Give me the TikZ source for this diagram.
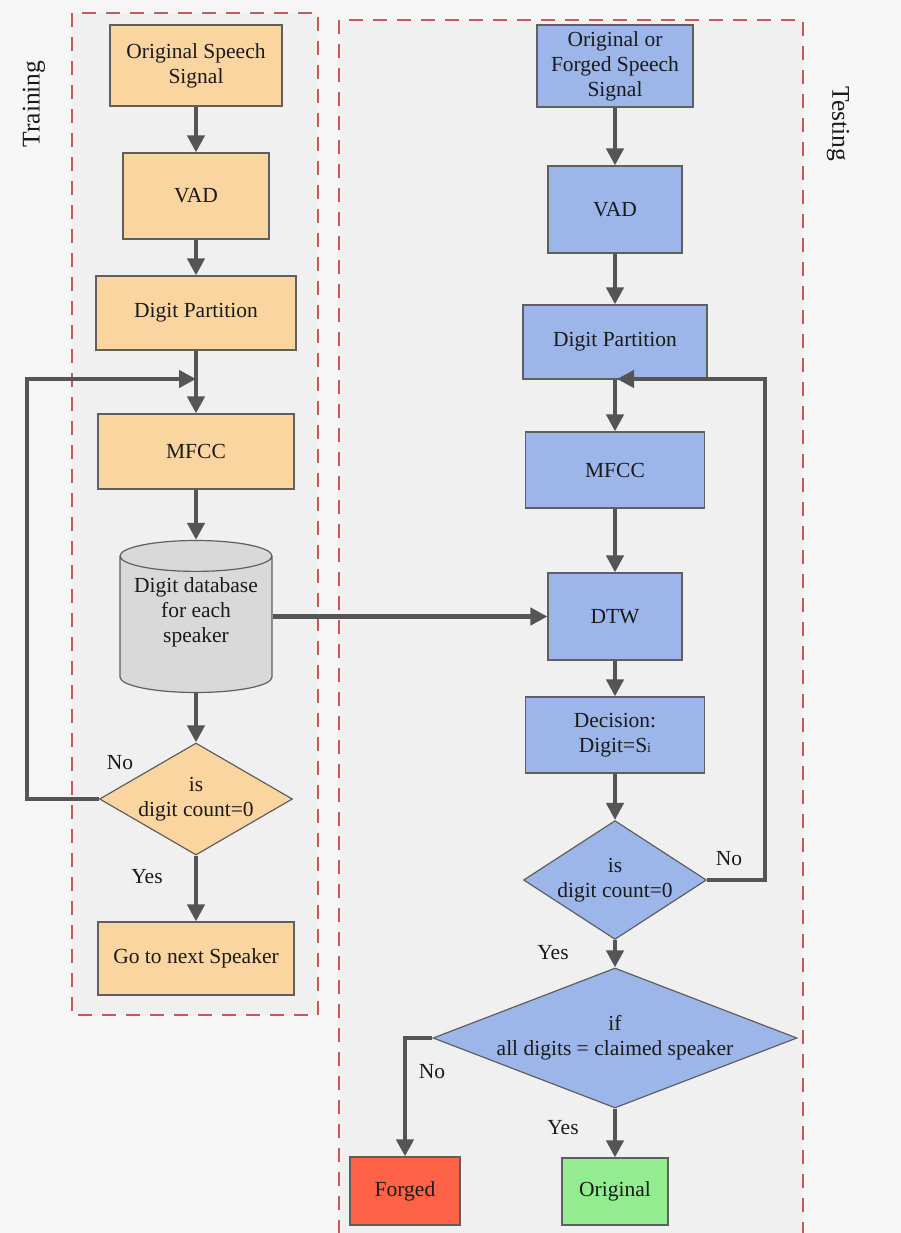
\documentclass[tikz,border=0pt]{standalone}
\usepackage{fontspec}
\setmainfont{Liberation Serif}
\usetikzlibrary{shapes.geometric,arrows.meta}
\definecolor{bg}{HTML}{F6F6F6}
\definecolor{panel}{HTML}{F0F0F0}
\definecolor{orangef}{HTML}{FAD5A0}
\definecolor{bluef}{HTML}{9DB6EA}
\definecolor{redf}{HTML}{FF6347}
\definecolor{greenf}{HTML}{93EC8F}
\definecolor{greyf}{HTML}{D9D9D9}
\definecolor{arrowc}{HTML}{555555}
\definecolor{edgec}{HTML}{5F5F5F}
\definecolor{dashc}{HTML}{C9585A}
\definecolor{txt}{HTML}{1A1A1A}
\tikzset{
  box/.style={draw=edgec, line width=1.2pt, align=center, inner sep=0pt, text=txt},
  obox/.style={box, fill=orangef},
  bbox/.style={box, fill=bluef},
  sz/.style 2 args={minimum width=#1, minimum height=#2},
  dia/.style={diamond, draw=edgec, line width=1.2pt, align=center, inner sep=0pt, text=txt},
  arr/.style={draw=arrowc, line width=4.5pt, -{Triangle[length=17pt,width=17pt]}},
  panelbox/.style={draw=dashc, line width=2.2pt, dash pattern=on 14pt off 10pt, fill=panel},
  lbl/.style={text=txt, inner sep=0pt}
}
\begin{document}
\begin{tikzpicture}[x=1pt,y=-1pt,font=\fontsize{21.5}{25}\selectfont]
\useasboundingbox (0,0) rectangle (901,1233);
\fill[bg] (0,0) rectangle (901,1233);
\clip (0,0) rectangle (901,1233);
% panels
\draw[panelbox] (72,13) rectangle (318,1015);
\draw[panelbox] (339,20) rectangle (803,1260);
% side labels
\node[lbl, rotate=90, font=\fontsize{25.5}{28}\selectfont] (trainlbl) at (34,104) {Training};
\node[lbl, rotate=-90, font=\fontsize{25.5}{28}\selectfont] (testlbl) at (838,124) {Testing};
% training column
\node[obox, sz={172pt}{81pt}] (o1) at (196,65.5) {Original Speech\\Signal};
\node[obox, sz={146pt}{86pt}] (v1) at (196,196) {VAD};
\node[obox, sz={200pt}{74pt}] (p1) at (196,313) {Digit Partition};
\node[obox, sz={196pt}{75pt}] (m1) at (196,451.5) {MFCC};
\node[cylinder, shape border rotate=90, aspect=0.25, draw=edgec, line width=1.2pt, fill=greyf,
      minimum width=152pt, minimum height=152pt, align=center, inner sep=0pt, text=txt,
      anchor=shape center] (db) at (196,616.5) {Digit database\\for each\\speaker\\[4pt]};
\node[dia, minimum width=193pt, minimum height=112pt, fill=orangef, aspect=1.72] (d1) at (196,799) {is\\digit count=0};
\node[obox, sz={196pt}{73pt}] (g1) at (196,958.5) {Go to next Speaker};
% testing column
\node[bbox, sz={156pt}{82pt}] (o2) at (615,66) {Original or\\Forged Speech\\Signal};
\node[bbox, sz={134pt}{87pt}] (v2) at (615,209.5) {VAD};
\node[bbox, sz={184pt}{74pt}] (p2) at (615,342) {Digit Partition};
\node[bbox, sz={179pt}{76pt}] (m2) at (615,470) {MFCC};
\node[bbox, sz={134pt}{87pt}] (dtw) at (615,616.5) {DTW};
\node[bbox, sz={179pt}{76pt}] (dec) at (615,735) {Decision:\\Digit=S{\fontsize{14}{14}\selectfont i}};
\node[dia, minimum width=176pt, minimum height=114pt, fill=bluef, aspect=1.54] (d2) at (615,880) {is\\digit count=0};
\node[dia, minimum width=364pt, minimum height=140pt, fill=bluef, aspect=2.6] (d3) at (615,1038) {if\\all digits = claimed speaker};
\node[box, fill=redf, sz={110pt}{68pt}] (fg) at (405,1191) {Forged};
\node[box, fill=greenf, sz={106pt}{67pt}] (og) at (615,1191.5) {Original};
% labels
\node[lbl] (no1) at (120,763) {No};
\node[lbl] (yes1) at (147,877) {Yes};
\node[lbl] (no2) at (729,859) {No};
\node[lbl] (yes2) at (553,953) {Yes};
\node[lbl] (no3) at (432,1072) {No};
\node[lbl] (yes3) at (563,1128) {Yes};
% junction coordinates
\coordinate (jl) at (196,379);
\coordinate (lc) at (27,379);
\coordinate (jr) at (617,379);
\coordinate (rc) at (765,379);
% training arrows
\draw[arr] (o1) -- (v1);
\draw[arr] (v1) -- (p1);
\draw[arr] (p1) -- (m1);
\draw[arr] (m1) -- (db.north);
\draw[arr] (db.south) -- (d1);
\draw[arr] (d1) -- (g1);
\draw[arr] (d1.west) -| (lc) -- (jl);
\draw[arr] (db.east |- dtw.west) -- (dtw.west);
% testing arrows
\draw[arr] (o2) -- (v2);
\draw[arr] (v2) -- (p2);
\draw[arr] (p2) -- (m2);
\draw[arr] (m2) -- (dtw);
\draw[arr] (dtw) -- (dec);
\draw[arr] (dec) -- (d2);
\draw[arr] (d2) -- (d3);
\draw[arr] (d3) -- (og);
\draw[arr] (d3.west) -| (fg.north);
\draw[arr] (d2.east) -| (rc) -- (jr);
\end{tikzpicture}
\end{document}
